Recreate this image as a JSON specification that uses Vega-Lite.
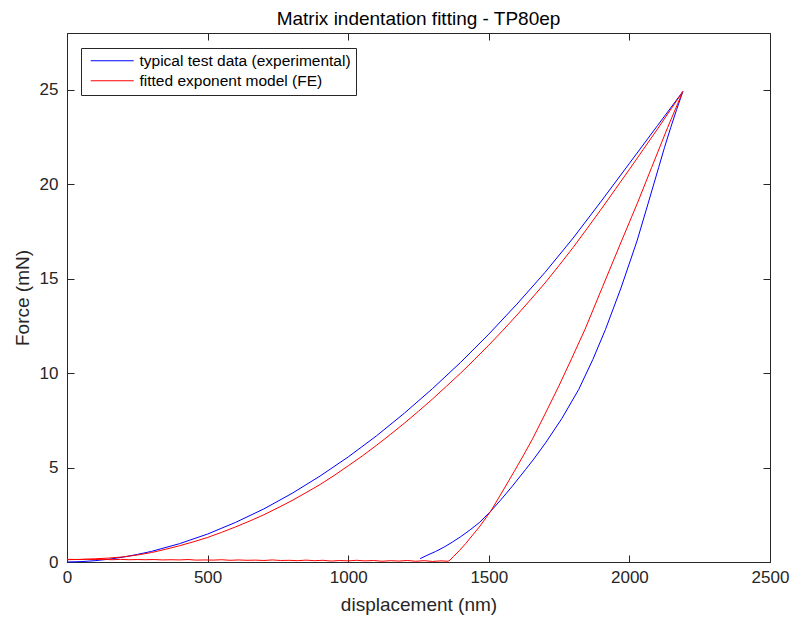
{
  "$schema": "https://vega.github.io/schema/vega-lite/v6.json",
  "width": 703,
  "height": 529,
  "autosize": {"type": "none"},
  "padding": {"left": 67, "top": 33, "right": 22, "bottom": 60},
  "background": "white",
  "title": {
    "text": "Matrix indentation fitting - TP80ep",
    "font": "Liberation Sans",
    "fontSize": 19,
    "fontWeight": "normal",
    "color": "#000000",
    "offset": 4
  },
  "config": {
    "view": {"stroke": null},
    "font": "Liberation Sans"
  },
  "data": {
    "values": [
      {"s": "typical test data (experimental)", "i": 1, "d": 0, "f": 0},
      {"s": "typical test data (experimental)", "i": 2, "d": 50, "f": 0.02},
      {"s": "typical test data (experimental)", "i": 3, "d": 100, "f": 0.07},
      {"s": "typical test data (experimental)", "i": 4, "d": 150, "f": 0.15},
      {"s": "typical test data (experimental)", "i": 5, "d": 200, "f": 0.26},
      {"s": "typical test data (experimental)", "i": 6, "d": 250, "f": 0.4},
      {"s": "typical test data (experimental)", "i": 7, "d": 300, "f": 0.56},
      {"s": "typical test data (experimental)", "i": 8, "d": 400, "f": 0.97},
      {"s": "typical test data (experimental)", "i": 9, "d": 500, "f": 1.48},
      {"s": "typical test data (experimental)", "i": 10, "d": 600, "f": 2.1},
      {"s": "typical test data (experimental)", "i": 11, "d": 700, "f": 2.81},
      {"s": "typical test data (experimental)", "i": 12, "d": 800, "f": 3.63},
      {"s": "typical test data (experimental)", "i": 13, "d": 900, "f": 4.55},
      {"s": "typical test data (experimental)", "i": 14, "d": 1000, "f": 5.56},
      {"s": "typical test data (experimental)", "i": 15, "d": 1100, "f": 6.67},
      {"s": "typical test data (experimental)", "i": 16, "d": 1200, "f": 7.88},
      {"s": "typical test data (experimental)", "i": 17, "d": 1300, "f": 9.18},
      {"s": "typical test data (experimental)", "i": 18, "d": 1400, "f": 10.57},
      {"s": "typical test data (experimental)", "i": 19, "d": 1500, "f": 12.06},
      {"s": "typical test data (experimental)", "i": 20, "d": 1600, "f": 13.65},
      {"s": "typical test data (experimental)", "i": 21, "d": 1700, "f": 15.33},
      {"s": "typical test data (experimental)", "i": 22, "d": 1800, "f": 17.15},
      {"s": "typical test data (experimental)", "i": 23, "d": 1900, "f": 19.1},
      {"s": "typical test data (experimental)", "i": 24, "d": 2000, "f": 21.1},
      {"s": "typical test data (experimental)", "i": 25, "d": 2100, "f": 23.1},
      {"s": "typical test data (experimental)", "i": 26, "d": 2190, "f": 24.9},
      {"s": "typical test data (experimental)", "i": 27, "d": 2168, "f": 23.95},
      {"s": "typical test data (experimental)", "i": 28, "d": 2147, "f": 23.0},
      {"s": "typical test data (experimental)", "i": 29, "d": 2125, "f": 21.95},
      {"s": "typical test data (experimental)", "i": 30, "d": 2104, "f": 20.88},
      {"s": "typical test data (experimental)", "i": 31, "d": 2065, "f": 18.9},
      {"s": "typical test data (experimental)", "i": 32, "d": 2027, "f": 16.99},
      {"s": "typical test data (experimental)", "i": 33, "d": 1970, "f": 14.5},
      {"s": "typical test data (experimental)", "i": 34, "d": 1915, "f": 12.31},
      {"s": "typical test data (experimental)", "i": 35, "d": 1870, "f": 10.72},
      {"s": "typical test data (experimental)", "i": 36, "d": 1820, "f": 9.14},
      {"s": "typical test data (experimental)", "i": 37, "d": 1760, "f": 7.6},
      {"s": "typical test data (experimental)", "i": 38, "d": 1702, "f": 6.31},
      {"s": "typical test data (experimental)", "i": 39, "d": 1660, "f": 5.45},
      {"s": "typical test data (experimental)", "i": 40, "d": 1631, "f": 4.9},
      {"s": "typical test data (experimental)", "i": 41, "d": 1584, "f": 4.02},
      {"s": "typical test data (experimental)", "i": 42, "d": 1545, "f": 3.33},
      {"s": "typical test data (experimental)", "i": 43, "d": 1507, "f": 2.69},
      {"s": "typical test data (experimental)", "i": 44, "d": 1466, "f": 2.08},
      {"s": "typical test data (experimental)", "i": 45, "d": 1430, "f": 1.66},
      {"s": "typical test data (experimental)", "i": 46, "d": 1400, "f": 1.34},
      {"s": "typical test data (experimental)", "i": 47, "d": 1370, "f": 1.05},
      {"s": "typical test data (experimental)", "i": 48, "d": 1340, "f": 0.78},
      {"s": "typical test data (experimental)", "i": 49, "d": 1310, "f": 0.55},
      {"s": "typical test data (experimental)", "i": 50, "d": 1280, "f": 0.35},
      {"s": "typical test data (experimental)", "i": 51, "d": 1256, "f": 0.18},

      {"s": "fitted exponent model (FE)", "i": 1, "d": 0, "f": 0.12},
      {"s": "fitted exponent model (FE)", "i": 2, "d": 50, "f": 0.14},
      {"s": "fitted exponent model (FE)", "i": 3, "d": 100, "f": 0.17},
      {"s": "fitted exponent model (FE)", "i": 4, "d": 150, "f": 0.21},
      {"s": "fitted exponent model (FE)", "i": 5, "d": 200, "f": 0.27},
      {"s": "fitted exponent model (FE)", "i": 6, "d": 250, "f": 0.37},
      {"s": "fitted exponent model (FE)", "i": 7, "d": 300, "f": 0.5},
      {"s": "fitted exponent model (FE)", "i": 8, "d": 350, "f": 0.67},
      {"s": "fitted exponent model (FE)", "i": 9, "d": 400, "f": 0.86},
      {"s": "fitted exponent model (FE)", "i": 10, "d": 450, "f": 1.07},
      {"s": "fitted exponent model (FE)", "i": 11, "d": 500, "f": 1.3},
      {"s": "fitted exponent model (FE)", "i": 12, "d": 550, "f": 1.57},
      {"s": "fitted exponent model (FE)", "i": 13, "d": 600, "f": 1.86},
      {"s": "fitted exponent model (FE)", "i": 14, "d": 650, "f": 2.17},
      {"s": "fitted exponent model (FE)", "i": 15, "d": 700, "f": 2.5},
      {"s": "fitted exponent model (FE)", "i": 16, "d": 750, "f": 2.87},
      {"s": "fitted exponent model (FE)", "i": 17, "d": 800, "f": 3.25},
      {"s": "fitted exponent model (FE)", "i": 18, "d": 850, "f": 3.67},
      {"s": "fitted exponent model (FE)", "i": 19, "d": 900, "f": 4.1},
      {"s": "fitted exponent model (FE)", "i": 20, "d": 950, "f": 4.58},
      {"s": "fitted exponent model (FE)", "i": 21, "d": 1000, "f": 5.09},
      {"s": "fitted exponent model (FE)", "i": 22, "d": 1050, "f": 5.61},
      {"s": "fitted exponent model (FE)", "i": 23, "d": 1100, "f": 6.17},
      {"s": "fitted exponent model (FE)", "i": 24, "d": 1150, "f": 6.75},
      {"s": "fitted exponent model (FE)", "i": 25, "d": 1200, "f": 7.35},
      {"s": "fitted exponent model (FE)", "i": 26, "d": 1250, "f": 7.98},
      {"s": "fitted exponent model (FE)", "i": 27, "d": 1300, "f": 8.63},
      {"s": "fitted exponent model (FE)", "i": 28, "d": 1350, "f": 9.31},
      {"s": "fitted exponent model (FE)", "i": 29, "d": 1400, "f": 10.0},
      {"s": "fitted exponent model (FE)", "i": 30, "d": 1450, "f": 10.73},
      {"s": "fitted exponent model (FE)", "i": 31, "d": 1500, "f": 11.48},
      {"s": "fitted exponent model (FE)", "i": 32, "d": 1550, "f": 12.26},
      {"s": "fitted exponent model (FE)", "i": 33, "d": 1600, "f": 13.07},
      {"s": "fitted exponent model (FE)", "i": 34, "d": 1650, "f": 13.91},
      {"s": "fitted exponent model (FE)", "i": 35, "d": 1700, "f": 14.77},
      {"s": "fitted exponent model (FE)", "i": 36, "d": 1750, "f": 15.7},
      {"s": "fitted exponent model (FE)", "i": 37, "d": 1800, "f": 16.65},
      {"s": "fitted exponent model (FE)", "i": 38, "d": 1850, "f": 17.66},
      {"s": "fitted exponent model (FE)", "i": 39, "d": 1900, "f": 18.68},
      {"s": "fitted exponent model (FE)", "i": 40, "d": 1950, "f": 19.73},
      {"s": "fitted exponent model (FE)", "i": 41, "d": 2000, "f": 20.78},
      {"s": "fitted exponent model (FE)", "i": 42, "d": 2050, "f": 21.85},
      {"s": "fitted exponent model (FE)", "i": 43, "d": 2100, "f": 22.92},
      {"s": "fitted exponent model (FE)", "i": 44, "d": 2150, "f": 24.02},
      {"s": "fitted exponent model (FE)", "i": 45, "d": 2190, "f": 24.9},
      {"s": "fitted exponent model (FE)", "i": 46, "d": 2136, "f": 23.0},
      {"s": "fitted exponent model (FE)", "i": 47, "d": 2079, "f": 20.88},
      {"s": "fitted exponent model (FE)", "i": 48, "d": 2030, "f": 19.05},
      {"s": "fitted exponent model (FE)", "i": 49, "d": 1972, "f": 16.99},
      {"s": "fitted exponent model (FE)", "i": 50, "d": 1905, "f": 14.58},
      {"s": "fitted exponent model (FE)", "i": 51, "d": 1842, "f": 12.31},
      {"s": "fitted exponent model (FE)", "i": 52, "d": 1795, "f": 10.78},
      {"s": "fitted exponent model (FE)", "i": 53, "d": 1749, "f": 9.31},
      {"s": "fitted exponent model (FE)", "i": 54, "d": 1700, "f": 7.83},
      {"s": "fitted exponent model (FE)", "i": 55, "d": 1655, "f": 6.5},
      {"s": "fitted exponent model (FE)", "i": 56, "d": 1620, "f": 5.56},
      {"s": "fitted exponent model (FE)", "i": 57, "d": 1593, "f": 4.86},
      {"s": "fitted exponent model (FE)", "i": 58, "d": 1560, "f": 4.02},
      {"s": "fitted exponent model (FE)", "i": 59, "d": 1530, "f": 3.27},
      {"s": "fitted exponent model (FE)", "i": 60, "d": 1507, "f": 2.69},
      {"s": "fitted exponent model (FE)", "i": 61, "d": 1466, "f": 1.85},
      {"s": "fitted exponent model (FE)", "i": 62, "d": 1440, "f": 1.38},
      {"s": "fitted exponent model (FE)", "i": 63, "d": 1418, "f": 0.98},
      {"s": "fitted exponent model (FE)", "i": 64, "d": 1395, "f": 0.6},
      {"s": "fitted exponent model (FE)", "i": 65, "d": 1375, "f": 0.3},
      {"s": "fitted exponent model (FE)", "i": 66, "d": 1362, "f": 0.1},
      {"s": "fitted exponent model (FE)", "i": 67, "d": 1355, "f": 0.04},
      {"s": "fitted exponent model (FE)", "i": 68, "d": 1330, "f": 0.06},
      {"s": "fitted exponent model (FE)", "i": 69, "d": 1300, "f": 0.03},
      {"s": "fitted exponent model (FE)", "i": 70, "d": 1270, "f": 0.07},
      {"s": "fitted exponent model (FE)", "i": 71, "d": 1240, "f": 0.04},
      {"s": "fitted exponent model (FE)", "i": 72, "d": 1210, "f": 0.08},
      {"s": "fitted exponent model (FE)", "i": 73, "d": 1180, "f": 0.05},
      {"s": "fitted exponent model (FE)", "i": 74, "d": 1150, "f": 0.07},
      {"s": "fitted exponent model (FE)", "i": 75, "d": 1120, "f": 0.04},
      {"s": "fitted exponent model (FE)", "i": 76, "d": 1090, "f": 0.08},
      {"s": "fitted exponent model (FE)", "i": 77, "d": 1060, "f": 0.06},
      {"s": "fitted exponent model (FE)", "i": 78, "d": 1030, "f": 0.09},
      {"s": "fitted exponent model (FE)", "i": 79, "d": 1000, "f": 0.06},
      {"s": "fitted exponent model (FE)", "i": 80, "d": 970, "f": 0.08},
      {"s": "fitted exponent model (FE)", "i": 81, "d": 940, "f": 0.05},
      {"s": "fitted exponent model (FE)", "i": 82, "d": 910, "f": 0.09},
      {"s": "fitted exponent model (FE)", "i": 83, "d": 880, "f": 0.07},
      {"s": "fitted exponent model (FE)", "i": 84, "d": 850, "f": 0.1},
      {"s": "fitted exponent model (FE)", "i": 85, "d": 820, "f": 0.07},
      {"s": "fitted exponent model (FE)", "i": 86, "d": 790, "f": 0.09},
      {"s": "fitted exponent model (FE)", "i": 87, "d": 760, "f": 0.08},
      {"s": "fitted exponent model (FE)", "i": 88, "d": 730, "f": 0.11},
      {"s": "fitted exponent model (FE)", "i": 89, "d": 700, "f": 0.08},
      {"s": "fitted exponent model (FE)", "i": 90, "d": 670, "f": 0.1},
      {"s": "fitted exponent model (FE)", "i": 91, "d": 640, "f": 0.09},
      {"s": "fitted exponent model (FE)", "i": 92, "d": 610, "f": 0.11},
      {"s": "fitted exponent model (FE)", "i": 93, "d": 580, "f": 0.09},
      {"s": "fitted exponent model (FE)", "i": 94, "d": 550, "f": 0.12},
      {"s": "fitted exponent model (FE)", "i": 95, "d": 520, "f": 0.1},
      {"s": "fitted exponent model (FE)", "i": 96, "d": 490, "f": 0.11},
      {"s": "fitted exponent model (FE)", "i": 97, "d": 460, "f": 0.1},
      {"s": "fitted exponent model (FE)", "i": 98, "d": 430, "f": 0.13},
      {"s": "fitted exponent model (FE)", "i": 99, "d": 400, "f": 0.11},
      {"s": "fitted exponent model (FE)", "i": 100, "d": 370, "f": 0.12},
      {"s": "fitted exponent model (FE)", "i": 101, "d": 340, "f": 0.11},
      {"s": "fitted exponent model (FE)", "i": 102, "d": 310, "f": 0.13},
      {"s": "fitted exponent model (FE)", "i": 103, "d": 280, "f": 0.12},
      {"s": "fitted exponent model (FE)", "i": 104, "d": 250, "f": 0.13},
      {"s": "fitted exponent model (FE)", "i": 105, "d": 220, "f": 0.12},
      {"s": "fitted exponent model (FE)", "i": 106, "d": 190, "f": 0.14},
      {"s": "fitted exponent model (FE)", "i": 107, "d": 160, "f": 0.12},
      {"s": "fitted exponent model (FE)", "i": 108, "d": 130, "f": 0.14},
      {"s": "fitted exponent model (FE)", "i": 109, "d": 100, "f": 0.13},
      {"s": "fitted exponent model (FE)", "i": 110, "d": 70, "f": 0.14},
      {"s": "fitted exponent model (FE)", "i": 111, "d": 40, "f": 0.13},
      {"s": "fitted exponent model (FE)", "i": 112, "d": 10, "f": 0.14},
      {"s": "fitted exponent model (FE)", "i": 113, "d": 0, "f": 0.13}
    ]
  },
  "layer": [
    {
      "mark": {"type": "line", "strokeWidth": 1},
      "encoding": {
        "x": {
          "field": "d",
          "type": "quantitative",
          "scale": {"domain": [0, 2500], "nice": false, "zero": false},
          "axis": {
            "orient": "bottom",
            "values": [0, 500, 1000, 1500, 2000, 2500],
            "format": "d",
            "grid": false,
            "tickSize": -7,
            "labelPadding": 14,
            "labelFlush": false,
            "labelOverlap": false,
            "labelFontSize": 17,
            "labelFont": "Liberation Sans",
            "labelColor": "#262626",
            "domainColor": "#262626",
            "tickColor": "#262626",
            "title": "displacement (nm)",
            "titleFont": "Liberation Sans",
            "titleFontSize": 19,
            "titleFontWeight": "normal",
            "titleColor": "#262626",
            "titlePadding": 10
          }
        },
        "y": {
          "field": "f",
          "type": "quantitative",
          "scale": {"domain": [0, 28], "nice": false, "zero": false},
          "axis": {
            "orient": "left",
            "values": [0, 5, 10, 15, 20, 25],
            "grid": false,
            "tickSize": -7,
            "labelPadding": 16,
            "labelOverlap": false,
            "labelFontSize": 17,
            "labelFont": "Liberation Sans",
            "labelColor": "#262626",
            "domainColor": "#262626",
            "tickColor": "#262626",
            "title": "Force (mN)",
            "titleFont": "Liberation Sans",
            "titleFontSize": 19,
            "titleFontWeight": "normal",
            "titleColor": "#262626",
            "titlePadding": 7
          }
        },
        "color": {
          "field": "s",
          "type": "nominal",
          "sort": null,
          "scale": {
            "domain": ["typical test data (experimental)", "fitted exponent model (FE)"],
            "range": ["#0000ff", "#ff0000"]
          },
          "legend": {
            "orient": "none",
            "legendX": 14,
            "legendY": 15,
            "title": null,
            "symbolType": "M-0.43,0H5.71",
            "symbolSize": 196,
            "symbolStrokeWidth": 1,
            "symbolFillColor": "transparent",
            "labelFont": "Liberation Sans",
            "labelFontSize": 15.5,
            "labelColor": "#000000",
            "labelOffset": 38,
            "labelLimit": 400,
            "padding": 5,
            "rowPadding": 3,
            "strokeColor": "#262626",
            "fillColor": "white"
          }
        },
        "order": {"field": "i", "type": "quantitative"}
      }
    },
    {
      "mark": {"type": "point", "opacity": 0},
      "encoding": {
        "x": {
          "field": "d",
          "type": "quantitative",
          "axis": {
            "orient": "top",
            "values": [0, 500, 1000, 1500, 2000, 2500],
            "grid": false,
            "labels": false,
            "tickSize": -7,
            "domainColor": "#262626",
            "tickColor": "#262626",
            "title": null
          }
        },
        "y": {
          "field": "f",
          "type": "quantitative",
          "axis": {
            "orient": "right",
            "values": [0, 5, 10, 15, 20, 25],
            "grid": false,
            "labels": false,
            "tickSize": -7,
            "domainColor": "#262626",
            "tickColor": "#262626",
            "title": null
          }
        }
      }
    }
  ],
  "resolve": {"axis": {"x": "independent", "y": "independent"}}
}
